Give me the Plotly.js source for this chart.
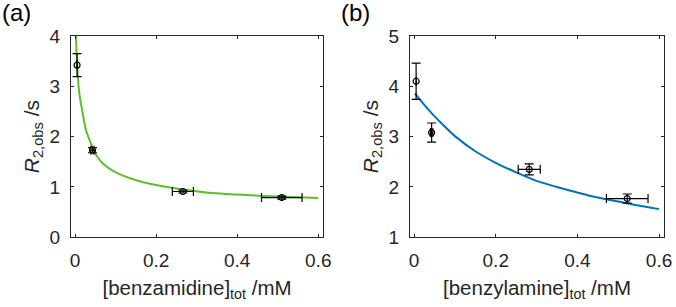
<!DOCTYPE html>
<html>
<head>
<meta charset="utf-8">
<script src="https://cdn.plot.ly/plotly-3.0.1.min.js"></script>
<style>
  html, body { margin: 0; padding: 0; background: #fff; }
  #plot { width: 676px; height: 307px; }
</style>
</head>
<body>
<div id="plot"></div>
<script>
// (a) benzamidine - measured points
const aX = [0.005, 0.043, 0.266, 0.510];
const aY = [3.42, 1.73, 0.91, 0.79];
const aXerr = [0, 0.004, 0.026, 0.050];
const aYerr = [0.23, 0.05, 0.03, 0.03];
// (a) fitted curve
const aFitX = [0.002, 0.004, 0.0065, 0.0106, 0.0188, 0.027, 0.039, 0.055, 0.072, 0.096, 0.12, 0.153, 0.194, 0.235, 0.267, 0.324, 0.4, 0.5, 0.6];
const aFitY = [4.05, 3.62, 3.26, 2.86, 2.47, 2.13, 1.87, 1.60, 1.44, 1.31, 1.22, 1.13, 1.05, 0.99, 0.95, 0.89, 0.85, 0.81, 0.78];

// (b) benzylamine - measured points
const bX = [0.005, 0.043, 0.282, 0.522];
const bY = [4.10, 3.08, 2.35, 1.77];
const bXerr = [0, 0.003, 0.027, 0.051];
const bYerr = [0.36, 0.19, 0.11, 0.09];
// (b) fitted curve
const bFitX = [0.002, 0.02, 0.04, 0.07, 0.1, 0.15, 0.2, 0.25, 0.3, 0.35, 0.4, 0.45, 0.5, 0.55, 0.6];
const bFitY = [3.86, 3.68, 3.49, 3.24, 3.01, 2.71, 2.48, 2.29, 2.12, 2.00, 1.89, 1.79, 1.71, 1.63, 1.56];

const xTicks = [0, 0.2, 0.4, 0.6];
const xTickText = ['0', '0.2', '0.4', '0.6'];
const aYTicks = [0, 1, 2, 3, 4];
const bYTicks = [1, 2, 3, 4, 5];

const ink = '#262626';
const font = 'Liberation Sans, Arial, sans-serif';

function points(x, y, ex, ey, xa, ya) {
    return {
        x: x, y: y, xaxis: xa, yaxis: ya,
        type: 'scatter', mode: 'markers',
        marker: { symbol: 'circle-open', size: 6, color: '#000', line: { width: 1.2 } },
        error_x: { type: 'data', array: ex, color: '#000', thickness: 1.2, width: 4.5 },
        error_y: { type: 'data', array: ey, color: '#000', thickness: 1.2, width: 4.5 },
        showlegend: false
    };
}

function fit(x, y, color, xa, ya) {
    return {
        x: x, y: y, xaxis: xa, yaxis: ya,
        type: 'scatter', mode: 'lines', line: { color: color, width: 2, shape: 'spline', smoothing: 1 },
        showlegend: false
    };
}

const data = [
    fit(aFitX, aFitY, '#5cbf2a', 'x', 'y'),
    points(aX, aY, aXerr, aYerr, 'x', 'y'),
    fit(bFitX, bFitY, '#0072bd', 'x2', 'y2'),
    points(bX, bY, bXerr, bYerr, 'x2', 'y2')
];

function xAxis(domain, title, anchor) {
    return {
        domain: domain, anchor: anchor, range: [-0.01, 0.612],
        tickvals: xTicks, ticktext: xTickText,
        ticks: 'inside', ticklen: 3, tickcolor: ink, tickwidth: 1,
        showline: true, linecolor: ink, linewidth: 1, mirror: 'ticks',
        showgrid: false, zeroline: false, ticklabelstandoff: 6,
        tickfont: { family: font, size: 19, color: ink },
        title: { text: title, font: { family: font, size: 20.5, color: ink }, standoff: 10 }
    };
}

function yAxis(domain, range, ticks, anchor) {
    return {
        domain: domain, anchor: anchor, range: range,
        tickvals: ticks,
        ticks: 'inside', ticklen: 3, tickcolor: ink, tickwidth: 1,
        showline: true, linecolor: ink, linewidth: 1, mirror: 'ticks',
        showgrid: false, zeroline: false, ticklabelstandoff: 6,
        tickfont: { family: font, size: 19, color: ink },
        title: { text: '<i>R</i><sub>2,obs</sub> /s', font: { family: font, size: 21, color: ink }, standoff: 4 }
    };
}

const yDom = [0.227, 0.883];

const layout = {
    width: 676, height: 307,
    margin: { l: 0, r: 0, t: 0, b: 0 },
    paper_bgcolor: '#fff', plot_bgcolor: '#fff',
    xaxis: xAxis([0.105, 0.478], '[benzamidine]<sub>tot</sub> /mM', 'y'),
    yaxis: yAxis(yDom, [0, 4], aYTicks, 'x'),
    xaxis2: xAxis([0.6065, 0.9822], '[benzylamine]<sub>tot</sub> /mM', 'y2'),
    yaxis2: yAxis(yDom, [1, 5], bYTicks, 'x2'),
    annotations: [
        { text: '(a)', x: 0.0, y: 1.01, xref: 'paper', yref: 'paper', xanchor: 'left', yanchor: 'top',
          showarrow: false, font: { family: font, size: 24, color: '#000' } },
        { text: '(b)', x: 0.501, y: 1.01, xref: 'paper', yref: 'paper', xanchor: 'left', yanchor: 'top',
          showarrow: false, font: { family: font, size: 24, color: '#000' } }
    ]
};

Plotly.newPlot('plot', data, layout, { staticPlot: true });
</script>
</body>
</html>
